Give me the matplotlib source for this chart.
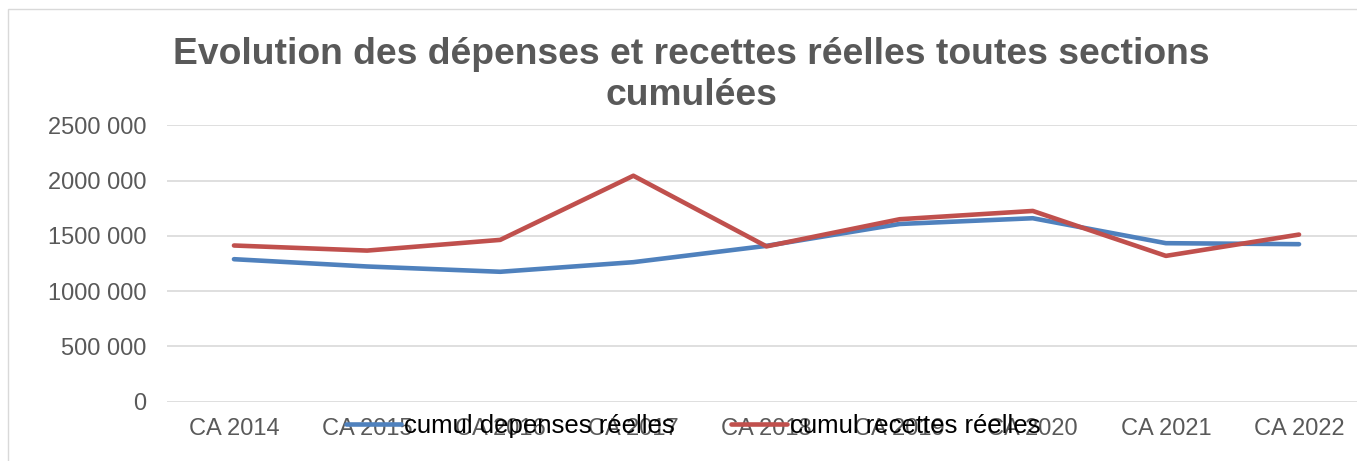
import matplotlib
matplotlib.use("Agg")
import matplotlib.pyplot as plt
from matplotlib.ticker import FuncFormatter, MultipleLocator
from matplotlib.patches import Rectangle

plt.rcParams['font.family'] = ['Liberation Sans', 'DejaVu Sans']

# categories and values
annees = ["CA 2014", "CA 2015", "CA 2016", "CA 2017", "CA 2018",
          "CA 2019", "CA 2020", "CA 2021", "CA 2022"]
depenses = [1289000, 1223000, 1175000, 1262000, 1410000,
            1608000, 1660000, 1434000, 1425000]
recettes = [1413000, 1367000, 1464000, 2045000, 1405000,
            1651000, 1726000, 1319000, 1512000]

bleu = '#4F81BD'
rouge = '#C0504D'
gris = '#595959'

W, H = 1357, 461
fig = plt.figure(figsize=(W / 100, H / 100), dpi=100)

# cadre du graphique (coupé à droite et en bas)
fig.add_artist(Rectangle((8 / W, -0.1), 1.2, 0.1 + 1 - 9 / H,
                         transform=fig.transFigure, fill=False,
                         edgecolor='#D9D9D9', lw=1.0))

ax = fig.add_axes([167.4 / W, (H - 401.5) / H, 1198.2 / W, 276 / H])
x = range(len(annees))
ax.plot(x, depenses, color=bleu, lw=3.3, solid_capstyle='round',
        solid_joinstyle='round', label="cumul depenses réelles")
ax.plot(x, recettes, color=rouge, lw=3.3, solid_capstyle='round',
        solid_joinstyle='round', label="cumul recettes réelles")

ax.set_xlim(-0.5, len(annees) - 0.5)
ax.set_ylim(0, 2500000)
ax.yaxis.set_major_locator(MultipleLocator(500000))


def fmt(v, pos):
    v = int(round(v))
    if v >= 1000:
        return "%d %03d" % (v // 1000, v % 1000)
    return str(v)


ax.yaxis.set_major_formatter(FuncFormatter(fmt))
ax.set_xticks(list(x))
ax.set_xticklabels(annees)
ax.tick_params(axis='both', length=0, labelsize=17, labelcolor=gris)
ax.tick_params(axis='y', pad=15)
ax.tick_params(axis='x', pad=12)
ax.grid(axis='y', color='#D9D9D9', lw=1.2)
ax.set_axisbelow(True)
for s in ax.spines.values():
    s.set_visible(False)

# va='baseline' cale la dernière ligne
fig.text(691 / W, 1 - 105 / H,
         "Evolution des dépenses et recettes réelles toutes sections\ncumulées",
         ha='center', va='baseline', fontsize=26.8, fontweight='bold',
         color=gris, linespacing=1.22)

fig.legend(loc='center', bbox_to_anchor=(693 / W, 35 / H), ncol=2,
           frameon=False, fontsize=18.5, handlelength=2.15,
           handletextpad=0.12, columnspacing=2.2, borderpad=0,
           labelcolor='black')

fig.savefig("out.png", dpi=100)
